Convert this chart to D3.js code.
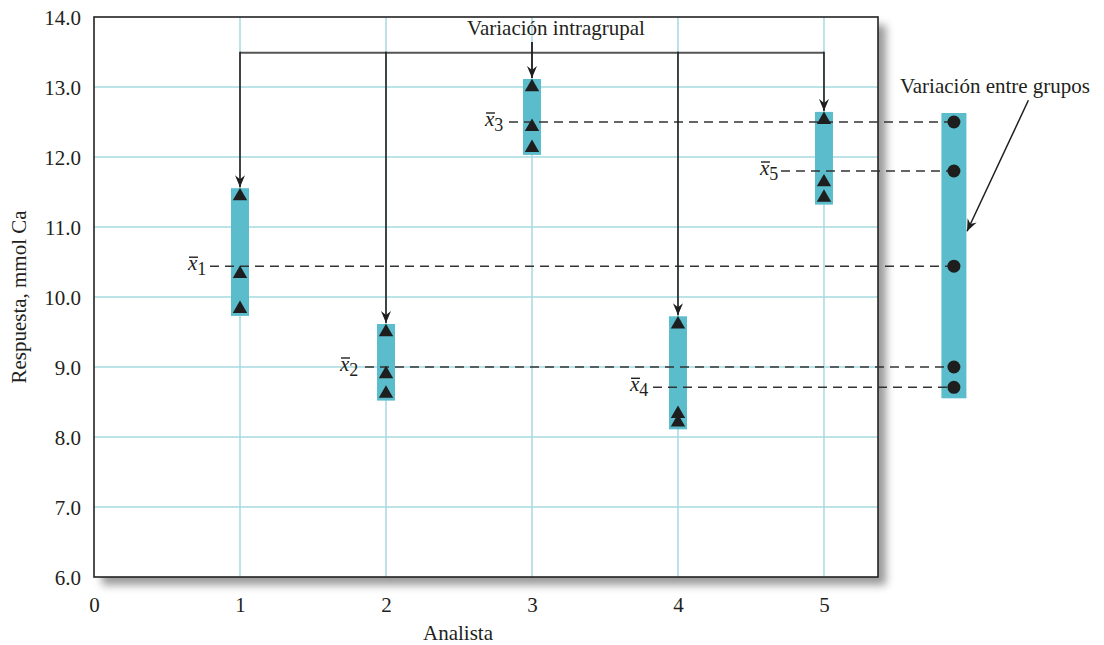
<!DOCTYPE html>
<html><head><meta charset="utf-8">
<script src="https://cdn.jsdelivr.net/npm/d3@7"></script>
<style>
html,body{margin:0;padding:0;background:#fff;}
svg text{font-family:"Liberation Serif","Times New Roman",serif;fill:#231f20;}
</style></head>
<body><svg id="c" width="1104" height="645"></svg>
<script>
// ---- data ----
const analysts = [1, 2, 3, 4, 5];
const results = [
  [11.44, 10.33, 9.83],
  [9.5, 8.9, 8.62],
  [13.0, 12.43, 12.13],
  [9.61, 8.33, 8.21],
  [12.53, 11.64, 11.42]
];
const means = [10.44, 9.0, 12.5, 8.71, 11.8];
const yTicks = [6, 7, 8, 9, 10, 11, 12, 13, 14];
const xTicks = [0, 1, 2, 3, 4, 5];
const betweenX = 5.89;           // position of the "between groups" column
const titleIntra = "Variación intragrupal";
const titleBetween = "Variación entre grupos";
const xTitle = "Analista";
const yTitle = "Respuesta, mmol Ca";

// ---- layout ----
const svg = d3.select("#c");
const L = 94, R = 878, T = 17, B = 577;
const FS = 21;
const x = d3.scaleLinear().domain([0, 5.37]).range([L, R]);
const y = d3.scaleLinear().domain([6, 14]).range([B, T]);
const teal = "#5bbdcc", grid = "#a6dae1", ink = "#1e1e1e";

const defs = svg.append("defs");
const f = defs.append("filter").attr("id", "sh").attr("x", "-5%").attr("y", "-5%").attr("width", "115%").attr("height", "115%");
f.append("feDropShadow").attr("dx", 8).attr("dy", 8).attr("stdDeviation", 4).attr("flood-color", "#000").attr("flood-opacity", 0.4);

defs.append("marker").attr("id", "ah").attr("viewBox", "-12 -6 14 12")
  .attr("markerWidth", 14).attr("markerHeight", 12).attr("refX", 0).attr("refY", 0)
  .attr("orient", "auto").attr("markerUnits", "userSpaceOnUse")
  .append("path").attr("d", "M0,0 L-12,-5 L-8,0 L-12,5 Z").attr("fill", ink);

// plot frame with shadow
svg.append("rect").attr("x", L).attr("y", T).attr("width", R - L).attr("height", B - T)
  .attr("fill", "#fff").attr("filter", "url(#sh)");

// grid
svg.append("g").selectAll("line").data(yTicks.filter(d => d > 6 && d < 14)).join("line")
  .attr("x1", L).attr("x2", R).attr("y1", d => y(d)).attr("y2", d => y(d))
  .attr("stroke", grid).attr("stroke-width", 1.5);
svg.append("g").selectAll("line").data(analysts).join("line")
  .attr("x1", d => x(d)).attr("x2", d => x(d)).attr("y1", T).attr("y2", B)
  .attr("stroke", grid).attr("stroke-width", 1.5);

// frame border
svg.append("rect").attr("x", L).attr("y", T).attr("width", R - L).attr("height", B - T)
  .attr("fill", "none").attr("stroke", "#222").attr("stroke-width", 1.6);

// axes labels
const yAxis = d3.axisLeft(y).tickValues(yTicks).tickFormat(d3.format(".1f")).tickSize(0).tickPadding(13);
const ga = svg.append("g").attr("transform", `translate(${L},0)`).call(yAxis);
ga.select(".domain").remove();
ga.selectAll("text").attr("font-size", FS).attr("dy", "0.35em").style("font-family", "Liberation Serif").attr("fill", "#231f20");
const xAxis = d3.axisBottom(x).tickValues(xTicks).tickFormat(d3.format("d")).tickSize(0).tickPadding(20);
const gx = svg.append("g").attr("transform", `translate(0,${B})`).call(xAxis);
gx.select(".domain").remove();
gx.selectAll("text").attr("font-size", FS).style("font-family", "Liberation Serif").attr("fill", "#231f20");

svg.append("text").attr("x", 458).attr("y", 640).attr("text-anchor", "middle").attr("font-size", FS).text(xTitle);
svg.append("text").attr("transform", "translate(26,297) rotate(-90)").attr("text-anchor", "middle").attr("font-size", FS).text(yTitle);

// group bars
const padTop = 8, padBot = 7, bw = 18;
svg.append("g").selectAll("rect").data(results).join("rect")
  .attr("x", (d, i) => x(analysts[i]) - bw / 2).attr("width", bw)
  .attr("y", d => y(d3.max(d)) - padTop)
  .attr("height", d => y(d3.min(d)) - y(d3.max(d)) + padTop + padBot)
  .attr("fill", teal);

// between-groups bar
const bx = x(betweenX);
svg.append("rect").attr("x", bx - 12.5).attr("width", 25)
  .attr("y", y(d3.max(means)) - 9).attr("height", y(d3.min(means)) - y(d3.max(means)) + 20)
  .attr("fill", teal);

// mean dashed lines + labels
const labelOffset = [-52, -46, -47, -48, -64];
const dashOffset = [-30, -21, -23, -25, -43];
svg.append("g").selectAll("line").data(means).join("line")
  .attr("x1", (d, i) => x(analysts[i]) + dashOffset[i]).attr("x2", bx - 6)
  .attr("y1", d => y(d)).attr("y2", d => y(d))
  .attr("stroke", "#333").attr("stroke-width", 1.5).attr("stroke-dasharray", "9,6");

const lg = svg.append("g");
means.forEach((m, i) => {
  const lx = x(analysts[i]) + labelOffset[i], ly = y(m);
  const t = lg.append("text").attr("x", lx).attr("y", ly + 4).attr("font-size", FS);
  t.append("tspan").attr("font-style", "italic").text("x");
  t.append("tspan").attr("font-size", 18).attr("dy", 5).text(analysts[i]);
  lg.append("line").attr("x1", lx + 1).attr("x2", lx + 10).attr("y1", ly - 9).attr("y2", ly - 9)
    .attr("stroke", "#231f20").attr("stroke-width", 1.4);
});

// triangles
const tri = d3.symbol().type(d3.symbolTriangle).size(90);
const pts = results.flatMap((g, i) => g.map(v => ({ a: analysts[i], v })));
svg.append("g").selectAll("path").data(pts).join("path")
  .attr("d", tri).attr("transform", d => `translate(${x(d.a)},${y(d.v)})`).attr("fill", ink);

// circles
svg.append("g").selectAll("circle").data(means).join("circle")
  .attr("cx", bx).attr("cy", d => y(d)).attr("r", 6.5).attr("fill", ink);

// intragroup bracket
const bracketY = y(13.49);
svg.append("line").attr("x1", x(1)).attr("x2", x(5)).attr("y1", bracketY).attr("y2", bracketY)
  .attr("stroke", "#555").attr("stroke-width", 2);
svg.append("g").selectAll("line").data(results.map((d, i) => i).filter(i => i !== 2)).join("line")
  .attr("x1", i => x(analysts[i])).attr("x2", i => x(analysts[i]))
  .attr("y1", bracketY - 1).attr("y2", i => y(d3.max(results[i])) - padTop - 1)
  .attr("stroke", ink).attr("stroke-width", 1.6).attr("marker-end", "url(#ah)");
svg.append("line").attr("x1", x(3)).attr("x2", x(3)).attr("y1", 42).attr("y2", y(d3.max(results[2])) - padTop - 1)
  .attr("stroke", ink).attr("stroke-width", 1.8).attr("marker-end", "url(#ah)");
svg.append("text").attr("x", 556).attr("y", 35).attr("text-anchor", "middle").attr("font-size", FS).text(titleIntra);

// between-groups annotation
svg.append("text").attr("x", 995).attr("y", 93).attr("text-anchor", "middle").attr("font-size", FS).text(titleBetween);
svg.append("line").attr("x1", x(6.4)).attr("y1", y(12.81)).attr("x2", x(5.98)).attr("y2", y(10.94))
  .attr("stroke", ink).attr("stroke-width", 1.5).attr("marker-end", "url(#ah)");
</script></body></html>
